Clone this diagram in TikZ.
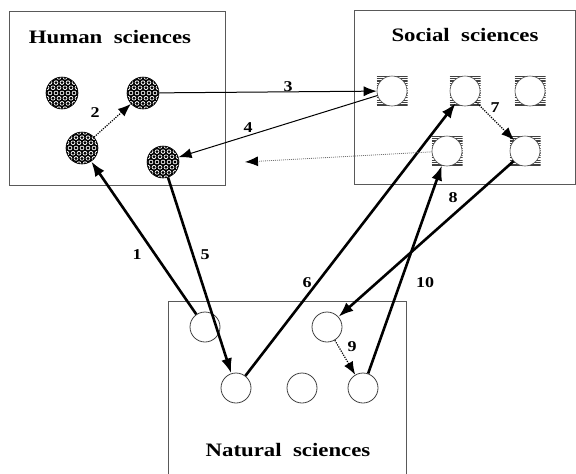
\documentclass[tikz,border=0pt]{standalone}
\usepackage{fontspec}
\setmainfont{Liberation Serif}
\newfontfamily\titlefont{Liberation Serif}[FakeStretch=1.2, WordSpace=2]
\usetikzlibrary{arrows.meta}
\tikzset{
  box/.style={draw=black!65, line width=0.9pt},
  title/.style={font=\titlefont\bfseries\fontsize{19}{21}\selectfont},
  num/.style={font=\titlefont\bfseries\fontsize{15}{17}\selectfont, inner sep=1pt},
  ball/.style={circle, minimum size=32pt, inner sep=0pt, draw=black, line width=0.6pt,
    path picture={
      \fill[black] (path picture bounding box.south west) rectangle (path picture bounding box.north east);
      \begin{scope}[shift={(path picture bounding box.center)}]
        \foreach \j in {-3,...,3}{
          \foreach \i in {-3,...,3}{
            \fill[white] ({\i*6+mod(\j+4,2)*3},{\j*5.2}) circle (2.3);
            \fill[black] ({\i*6+mod(\j+4,2)*3},{\j*5.2}) circle (1.6);
          }
        }
      \end{scope}
    }},
  sq/.style={rectangle, minimum width=31pt, minimum height=30pt, inner sep=0pt,
    path picture={
      \foreach \k in {0,...,12}{
        \draw[black!75, line width=1.1pt]
          ([yshift=\k*2.4pt+1pt]path picture bounding box.south west) --
          ([yshift=\k*2.4pt+1pt]path picture bounding box.south east);
      }
    }},
  hole/.style={circle, minimum size=30pt, inner sep=0pt, fill=white, draw=black!70, line width=0.6pt},
  nat/.style={circle, minimum size=30pt, inner sep=0pt, draw=black!75, line width=0.8pt},
  big/.style={-{Latex[length=15pt,width=11pt]}, line width=2.6pt},
  link/.style={-{Latex[length=13pt,width=10pt]}, line width=1pt},
  dotlink/.style={-{Latex[length=13pt,width=10pt]}, line width=1.2pt, dash pattern=on 1.2pt off 1.2pt},
  faint/.style={-{Latex[length=13pt,width=10pt,color=black]}, draw=black!55, line width=0.8pt, dash pattern=on 1pt off 1pt}
}
\begin{document}
\begin{tikzpicture}[x=1pt, y=-1pt]
\useasboundingbox (0,0) rectangle (576,474);
% boxes
\draw[box] (9,11) rectangle (225,185);
\draw[box] (354,10) rectangle (575,184);
\draw[box] (168,474) -- (168,301) -- (406,301) -- (406,474);
% titles
\node[title] (th) at (110,37) {Human sciences};
\node[title] (ts) at (465,35) {Social sciences};
\node[title] (tn) at (288,450) {Natural sciences};
% human
\node[ball] (h1) at (62,93) {};
\node[ball] (h2) at (143,93) {};
\node[ball] (h3) at (82,148) {};
\node[ball] (h4) at (163,162) {};
% social
\node[sq] (qa) at (392,91) {};
\node[sq] (qb) at (465,91) {};
\node[sq] (qc) at (530,91) {};
\node[sq] (qd) at (447,151) {};
\node[sq] (qe) at (525,151) {};
\node[hole] (sa) at (392,91) {};
\node[hole] (sb) at (465,91) {};
\node[hole] (sc) at (530,91) {};
\node[hole] (sd) at (447,151) {};
\node[hole] (se) at (525,151) {};
% natural
\node[nat] (n1) at (205,327) {};
\node[nat] (n2) at (327,327) {};
\node[nat] (n3) at (236,388) {};
\node[nat] (n4) at (302,388) {};
\node[nat] (n5) at (363,388) {};
\coordinate (free) at (245,162);
% connectors
\draw[big] (n1) -- (h3);
\draw[dotlink] (h3) -- (h2);
\draw[link] (h2) -- (sa);
\draw[link] (sa) -- (h4);
\draw[big] (h4) -- (n3);
\draw[big] (n3) -- (sb);
\draw[dotlink] (sb) -- (se);
\draw[big] (se) -- (n2);
\draw[dotlink] (n2) -- (n5);
\draw[big] (n5) -- (sd);
\draw[faint] (sd) -- (free);
% labels
\node[num] (l1) at (137,255) {1};
\node[num] (l2) at (95,113) {2};
\node[num] (l3) at (288,87) {3};
\node[num] (l4) at (248,128) {4};
\node[num] (l5) at (205,255) {5};
\node[num] (l6) at (307,283) {6};
\node[num] (l7) at (495,108) {7};
\node[num] (l8) at (453,198) {8};
\node[num] (l9) at (352,347) {9};
\node[num] (l10) at (425,283) {10};
\end{tikzpicture}
\end{document}
